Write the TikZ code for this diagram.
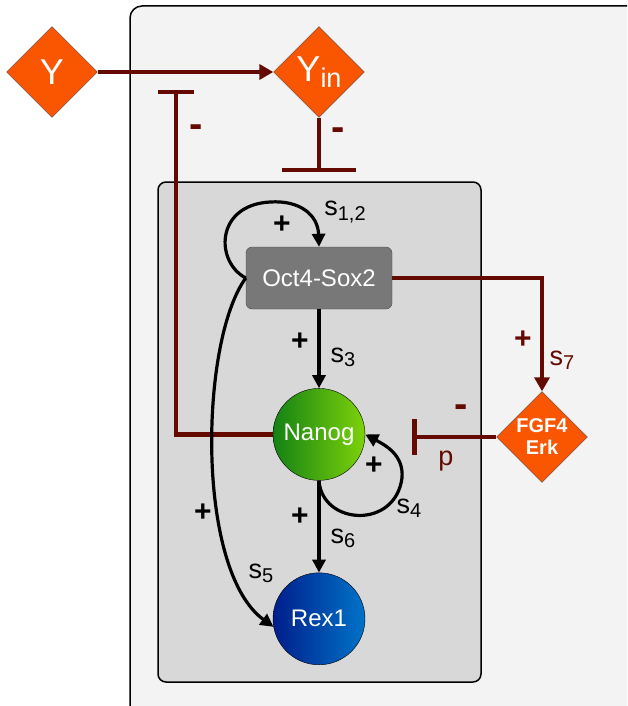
\documentclass[tikz,border=0pt]{standalone}
\usepackage{fontspec}
\setmainfont{Liberation Sans}
\usetikzlibrary{arrows.meta,positioning,shapes.geometric}
\definecolor{inhibred}{RGB}{100,10,0}
\definecolor{signalorange}{RGB}{250,85,0}
\definecolor{cellgrey}{RGB}{243,243,243}
\definecolor{nucgrey}{RGB}{216,216,216}
\definecolor{complexgrey}{RGB}{120,120,120}
\definecolor{nanogdark}{RGB}{20,130,20}
\definecolor{nanoglight}{RGB}{125,210,10}
\definecolor{rexdark}{RGB}{0,30,140}
\definecolor{rexlight}{RGB}{0,115,200}
\newcommand{\rate}[1]{s\raisebox{-0.3ex}{\fontsize{20}{20}\selectfont#1}}
\tikzset{
  signal/.style={diamond,draw=black!70,thin,fill=signalorange,
    minimum size=91pt,inner sep=0pt,text=white,align=center},
  complex/.style={rectangle,rounded corners=6pt,draw=black!70,fill=complexgrey,
    minimum width=146pt,minimum height=62pt,text=white,
    font=\fontsize{24}{26}\selectfont},
  gene/.style={circle,draw=black,minimum size=92pt,inner sep=0pt,text=white,
    font=\fontsize{24}{26}\selectfont},
  act/.style={-{Triangle[length=13pt,width=13pt]},line width=3.2pt},
  actred/.style={-{Triangle[length=14pt,width=15pt]},line width=4.5pt,draw=inhibred},
  inhib/.style={-{Bar[width=#1,line width=4.5pt]},line width=4.5pt,draw=inhibred},
  sign/.style={font=\fontsize{30}{30}\selectfont\bfseries},
  minus/.style={font=\fontsize{40}{40}\selectfont\bfseries,text=inhibred},
  rate/.style={font=\fontsize{27}{27}\selectfont}
}

\begin{document}
\begin{tikzpicture}[x=1pt,y=-1pt]
  \path[use as bounding box] (0,0) rectangle (627,706);
  \clip (0,0) rectangle (627,706);
  \fill[white] (0,0) rectangle (627,706);
  % cell and nucleus
  \draw[rounded corners=12pt,fill=cellgrey,line width=1.5pt] (130,6) rectangle (660,740);
  \draw[rounded corners=8pt,fill=nucgrey,line width=1.5pt] (158,182) rectangle (481,682);

  \node[signal,font=\fontsize{36}{36}\selectfont] (y) at (52,72) {Y};
  \node[signal,font=\fontsize{36}{36}\selectfont] (yin) at (319,72)
    {Y\raisebox{-0.35ex}{\fontsize{27}{27}\selectfont in}};
  \node[complex] (oct) at (319,278) {Oct4-Sox2};
  \node[gene,left color=nanogdark,right color=nanoglight,below=79pt of oct] (nanog) {Nanog};
  \node[gene,left color=rexdark,right color=rexlight,below=92pt of nanog] (rex) {Rex1};
  \node[signal,font=\fontsize{20}{22}\selectfont\bfseries] (fgf) at (542,437) {FGF4\\Erk};

  \coordinate (yinbar) at (319,172);
  \coordinate (nanogbar) at (176,90);
  \coordinate (fgfbar) at (412,437);

  % red links
  \draw[actred] (y) -- (yin);
  \draw[inhib=74pt] (yin) -- (yinbar);
  \draw[inhib=36pt] (nanog.west) -| (nanogbar);
  \draw[inhib=36pt] (fgf) -- (fgfbar);
  \draw[actred] (oct.east) -| (fgf.north);

  % black links
  \draw[act] (oct.west) .. controls (215,262) and (215,205) .. (270,202)
    .. controls (300,200) and (318,215) .. (oct.north);
  \draw[act] (oct) -- (nanog);
  \draw[act] (nanog) -- (rex);
  \draw[act] (oct.west) .. controls (200,340) and (195,570) .. (rex.190);
  \draw[act] (nanog.south) .. controls (322,525) and (395,530) .. (402,478)
    .. controls (404,455) and (385,445) .. (nanog.east);

  % labels
  \node[sign] (p12) at (282,225) {+};
  \node[rate] (s12) at (345,212) {\rate{1,2}};
  \node[sign] (p3) at (300,342) {+};
  \node[rate] (s3) at (343,357) {\rate{3}};
  \node[sign] (p4) at (374,466) {+};
  \node[rate] (s4) at (409,508) {\rate{4}};
  \node[sign] (p6) at (300,517) {+};
  \node[rate] (s6) at (343,538) {\rate{6}};
  \node[sign] (p5) at (203,513) {+};
  \node[rate] (s5) at (261,573) {\rate{5}};
  \node[sign,text=inhibred] (p7) at (523,340) {+};
  \node[rate,text=inhibred] (s7) at (562,360) {\rate{7}};
  \node[minus] (mfgf) at (461,411) {-};
  \node[rate,text=inhibred] (pfgf) at (446,461) {p};
  \node[minus] (myin) at (338,134) {-};
  \node[minus] (mnanog) at (196,131) {-};
\end{tikzpicture}
\end{document}
